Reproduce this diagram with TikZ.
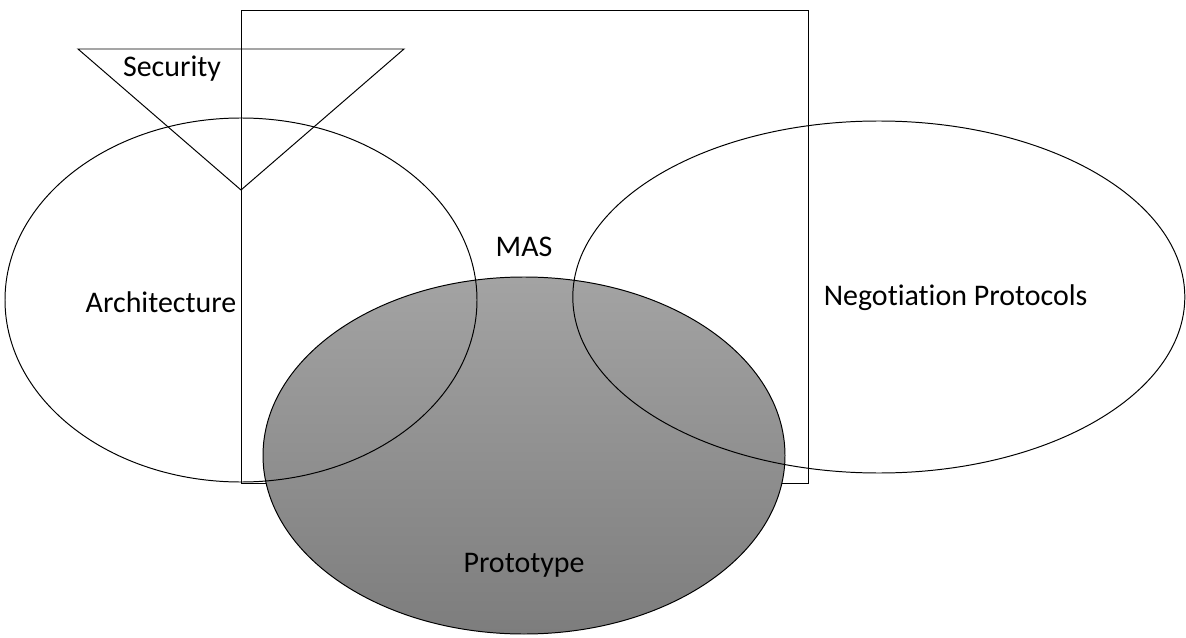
\documentclass[tikz,border=0pt]{standalone}
\usepackage{fontspec}
\setmainfont[Ligatures=NoCommon]{Carlito}
\usepackage{xcolor}
\usepackage{tikz}
\usetikzlibrary{positioning}

\tikzset{
	outline/.style={
		draw=black,
		line width=0.7pt
	},
	label/.style={
		anchor=base,
		inner sep=0pt,
		font=\fontsize{21.3}{25}\selectfont
	}
}

\begin{document}
\begin{tikzpicture}
	\useasboundingbox (0,0) rectangle (29.65,15.925);
	% MAS
	\draw[
		outline
	] (6.025,3.85) rectangle (20.2,15.675);
	% Security
	\draw[
		outline
	] (1.95,14.7) -- (10.1,14.7) -- (6.025,11.175) -- cycle;
	% Prototype
	\draw[
		outline,
		top color=black!36,
		bottom color=black!51
	] (13.1,4.5375) ellipse [x radius=6.525cm, y radius=4.4625cm];
	% Architecture
	\draw[
		outline
	] (6.025,8.425) ellipse [x radius=5.9cm, y radius=4.55cm];
	% Negotiation Protocols
	\draw[
		outline
	] (21.97,8.5) ellipse [x radius=7.65cm, y radius=4.4cm];

	% Begriffe
	\node[label] (security)     at (4.3,14.0)   {Security};
	\node[label] (mas)          at (13.1,9.5)   {MAS};
	\node[label] (architecture) at (4.025,8.125) {Architecture};
	\node[label] (negotiation)  at (23.89,8.29) {Negotiation Protocols};
	\node[label] (prototype)    at (13.1,1.625) {Prototype};
\end{tikzpicture}
\end{document}
